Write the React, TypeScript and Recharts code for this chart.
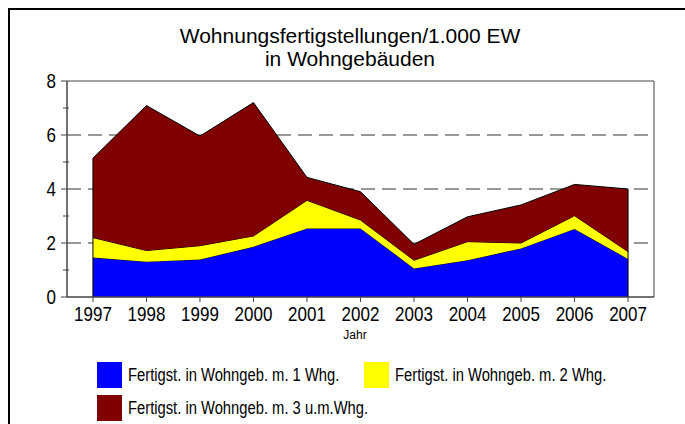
import React from 'react'
import { ComposedChart, Area, XAxis, YAxis, CartesianGrid, ReferenceArea, ReferenceLine } from 'recharts'

// Wohnungsfertigstellungen je 1.000 EW, gestapelt
const years = [1997, 1998, 1999, 2000, 2001, 2002, 2003, 2004, 2005, 2006, 2007]
const oneFlat = [1.46, 1.31, 1.39, 1.86, 2.54, 2.54, 1.06, 1.36, 1.8, 2.52, 1.41]
const twoFlats = [0.74, 0.41, 0.51, 0.4, 1.04, 0.31, 0.3, 0.69, 0.2, 0.49, 0.27]
const threePlus = [2.94, 5.37, 4.06, 4.94, 0.85, 1.05, 0.59, 0.92, 1.41, 1.16, 2.32]
const yTicks = [0, 1, 2, 3, 4, 5, 6, 7, 8]
const gridValues = [2, 4, 6]

const seriesNames = [
    'Fertigst. in Wohngeb. m. 1 Whg.',
    'Fertigst. in Wohngeb. m. 2 Whg.',
    'Fertigst. in Wohngeb. m. 3 u.m.Whg.',
]
const colors = ['#0000ff', '#ffff00', '#800000']

const sans = '"Liberation Sans", Arial, sans-serif'
const axisColor = '#444'

const data = years.map((year, i) => ({
    year,
    one: oneFlat[i],
    two: twoFlats[i],
    three: threePlus[i],
}))

const totals = years.map((_, i) => oneFlat[i] + twoFlats[i] + threePlus[i])

// narrow look: Liberation Sans squeezed horizontally
function NarrowText({ x, y, anchor, children }: any) {
    return (
        <text
            transform={`translate(${x},${y}) scale(0.85,1)`}
            textAnchor={anchor}
            fontFamily={sans}
            fontSize={20}
            fill="#000"
        >
            {children}
        </text>
    )
}

function YTick({ x, y, payload }: any) {
    const major = payload.value % 2 === 0
    return (
        <g>
            {major ? (
                <line x1={x + 2} x2={x + 8} y1={y} y2={y} stroke={axisColor} />
            ) : (
                <line x1={x + 4} x2={x + 10} y1={y} y2={y} stroke={axisColor} />
            )}
            {major && (
                <NarrowText x={x - 3} y={y + 7} anchor="end">
                    {payload.value}
                </NarrowText>
            )}
        </g>
    )
}

function XTick({ x, y, payload }: any) {
    return (
        <g>
            <line x1={x} x2={x} y1={y - 8} y2={y - 3} stroke={axisColor} />
            <NarrowText x={x} y={y + 16} anchor="middle">
                {payload.value}
            </NarrowText>
        </g>
    )
}

function LegendBox({ color, label, left, top }: { color: string; label: string; left: number; top: number }) {
    return (
        <div style={{ position: 'absolute', left, top, height: 26, display: 'flex', alignItems: 'center' }}>
            <div style={{ width: 25, height: 26, background: color, flex: 'none' }} />
            <span
                style={{
                    marginLeft: 6,
                    fontFamily: sans,
                    fontSize: 18,
                    color: '#000',
                    whiteSpace: 'nowrap',
                    display: 'inline-block',
                    transform: 'scaleX(0.82)',
                    transformOrigin: 'left center',
                }}
            >
                {label}
            </span>
        </div>
    )
}

export default function App() {
    return (
        <div style={{ position: 'absolute', left: 0, top: 0, width: 685, height: 424, overflow: 'hidden', background: '#fff' }}>
            <div
                style={{
                    position: 'absolute',
                    left: 8,
                    top: 8,
                    width: 700,
                    height: 440,
                    borderTop: '2px solid #000',
                    borderLeft: '2px solid #000',
                }}
            />
            <div
                style={{
                    position: 'absolute',
                    left: 0,
                    top: 24,
                    width: 700,
                    textAlign: 'center',
                    fontFamily: sans,
                    fontSize: 21,
                    lineHeight: '23px',
                    color: '#000',
                }}
            >
                Wohnungsfertigstellungen/1.000 EW
                <br />
                in Wohngebäuden
            </div>
            <div style={{ position: 'absolute', left: 0, top: 0 }}>
                <ComposedChart width={685} height={424} data={data} margin={{ top: 81, right: 31, left: 0, bottom: 97 }}>
                    <CartesianGrid vertical={false} horizontalValues={gridValues} stroke="#333" strokeDasharray="14 7" />
                    <XAxis
                        dataKey="year"
                        type="number"
                        domain={[1996.515, 2007.485]}
                        ticks={years}
                        interval={0}
                        tickLine={false}
                        axisLine={{ stroke: axisColor }}
                        tick={<XTick />}
                        height={30}
                    />
                    <YAxis
                        type="number"
                        domain={[0, 8]}
                        ticks={yTicks}
                        interval={0}
                        tickLine={false}
                        axisLine={{ stroke: axisColor }}
                        tick={<YTick />}
                        width={67}
                    />
                    <Area dataKey="one" stackId="a" type="linear" fill={colors[0]} fillOpacity={1} stroke="#000" strokeWidth={1} isAnimationActive={false} />
                    <Area dataKey="two" stackId="a" type="linear" fill={colors[1]} fillOpacity={1} stroke="#000" strokeWidth={1} isAnimationActive={false} />
                    <Area dataKey="three" stackId="a" type="linear" fill={colors[2]} fillOpacity={1} stroke="#000" strokeWidth={1} isAnimationActive={false} />
                    <ReferenceLine segment={[{ x: years[0], y: 0 }, { x: years[0], y: totals[0] }]} stroke="#000" />
                    <ReferenceLine
                        segment={[{ x: years[years.length - 1], y: 0 }, { x: years[years.length - 1], y: totals[totals.length - 1] }]}
                        stroke="#000"
                    />
                    <ReferenceArea y1={0} y2={8} fill="none" stroke={axisColor} strokeWidth={1} />
                </ComposedChart>
            </div>
            <div
                style={{
                    position: 'absolute',
                    left: 330,
                    top: 328,
                    width: 50,
                    textAlign: 'center',
                    fontFamily: sans,
                    fontSize: 12,
                    color: '#000',
                }}
            >
                Jahr
            </div>
            <LegendBox color={colors[0]} label={seriesNames[0]} left={97} top={362} />
            <LegendBox color={colors[1]} label={seriesNames[1]} left={364} top={362} />
            <LegendBox color={colors[2]} label={seriesNames[2]} left={97} top={395} />
        </div>
    )
}
